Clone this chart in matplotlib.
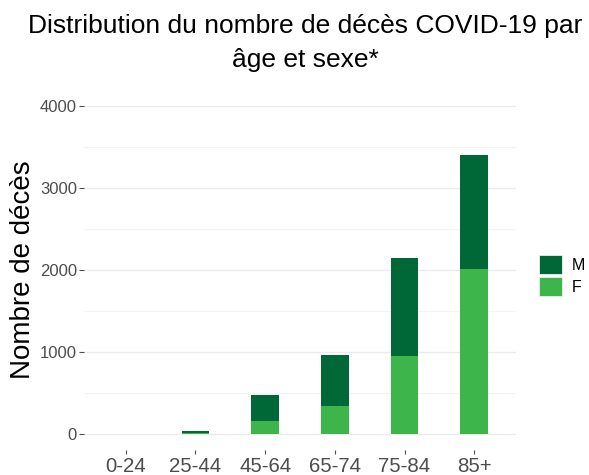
import matplotlib
matplotlib.use("Agg")
import matplotlib.pyplot as plt
from matplotlib.patches import Patch

# data
AGE_GROUPS = ["0-24", "25-44", "45-64", "65-74", "75-84", "85+"]
DECES_F = [0, 10, 159, 341, 951, 2016]
DECES_M = [0, 25, 317, 622, 1199, 1390]
Y_TICKS = [0, 1000, 2000, 3000, 4000]
Y_MINOR = [500, 1500, 2500, 3500]

COL_M = "#006837"
COL_F = "#3db54a"
TXT_GREY = "#4d4d4d"

plt.rcParams["font.family"] = ["Liberation Sans", "DejaVu Sans"]

W, H = 589, 475
fig = plt.figure(figsize=(W / 100, H / 100), dpi=100)
ax = fig.add_axes([84 / W, 24.6 / H, 432 / W, 360.8 / H])

x = list(range(len(AGE_GROUPS)))
ax.bar(x, DECES_F, width=0.4, color=COL_F, zorder=3)
ax.bar(x, DECES_M, width=0.4, bottom=DECES_F, color=COL_M, zorder=3)

ax.set_xlim(-0.6, len(AGE_GROUPS) - 0.4)
ax.set_ylim(-200, 4200)
ax.set_xticks(x)
ax.set_xticklabels(AGE_GROUPS)
ax.set_yticks(Y_TICKS)
ax.set_yticks(Y_MINOR, minor=True)

# theme_minimal-ish
for s in ax.spines.values():
    s.set_visible(False)
ax.grid(axis="y", which="major", color="#ebebeb", linewidth=1.0, zorder=0)
ax.grid(axis="y", which="minor", color="#f3f3f3", linewidth=0.8, zorder=0)
ax.tick_params(axis="y", which="minor", length=0)
ax.tick_params(axis="y", which="major", length=3.5, width=0.8, color=TXT_GREY,
               labelsize=12, labelcolor=TXT_GREY, pad=1.5)
ax.tick_params(axis="x", length=3, width=0.8, color=TXT_GREY,
               labelsize=14.7, labelcolor=TXT_GREY, pad=2)

ax.set_ylabel("Nombre de décès", fontsize=20, color="black", labelpad=3)

fig.text(305 / W, 1 - 33 / H, "Distribution du nombre de décès COVID-19 par",
         ha="center", va="baseline", fontsize=19, color="black")
fig.text(305 / W, 1 - 67.5 / H, "âge et sexe*",
         ha="center", va="baseline", fontsize=19, color="black")

handles = [Patch(facecolor=COL_M, edgecolor="#e8f2ea", linewidth=0.6, label="M"),
           Patch(facecolor=COL_F, edgecolor="#e8f2ea", linewidth=0.6, label="F")]
fig.legend(handles=handles, loc="center left", bbox_to_anchor=(539 / W, 1 - 275.5 / H),
           frameon=False, fontsize=11.5, handlelength=1.45, handleheight=1.4,
           handletextpad=0.6, labelspacing=0.2, borderpad=0, borderaxespad=0)

fig.savefig("out.png", dpi=100)
